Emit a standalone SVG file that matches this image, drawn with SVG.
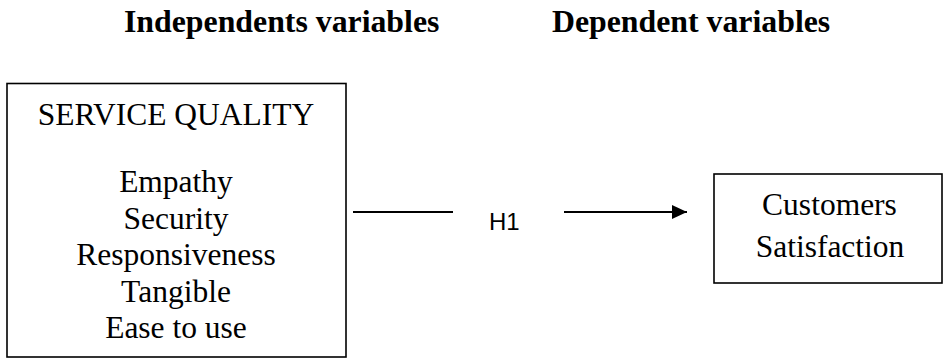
<svg xmlns="http://www.w3.org/2000/svg" width="943" height="358" viewBox="0 0 943 358">
<style>
.box{fill:#fff;stroke:#000;stroke-width:1.6}
.t{font-family:"Liberation Serif","Times New Roman",serif;font-size:31.5px;fill:#000;text-anchor:middle}
.h{font-family:"Liberation Serif","Times New Roman",serif;font-size:31.8px;font-weight:bold;fill:#000}
.lbl{font-family:"Liberation Sans",Arial,sans-serif;font-size:24px;fill:#000}
.ln{stroke:#000;stroke-width:2;fill:none}
</style>
<defs>
<marker id="arr" markerWidth="16" markerHeight="14" refX="15" refY="7" orient="auto" markerUnits="userSpaceOnUse">
<path d="M0,0 L15,7 L0,14 Z" fill="#000"/>
</marker>
</defs>
<g id="headings">
<text class="h" x="124" y="32">Independents variables</text>
<text class="h" x="552" y="32">Dependent variables</text>
</g>
<g id="service-quality">
<rect class="box" x="7" y="83.5" width="339" height="273.5"/>
<text class="t" x="176" y="125">SERVICE QUALITY</text>
<text class="t" x="176" y="192">Empathy</text>
<text class="t" x="176" y="228.5">Security</text>
<text class="t" x="176" y="265">Responsiveness</text>
<text class="t" x="176" y="301.5">Tangible</text>
<text class="t" x="176" y="338">Ease to use</text>
</g>
<g id="customer-satisfaction">
<rect class="box" x="714" y="174" width="228" height="109"/>
<text class="t" x="829.5" y="215">Customers</text>
<text class="t" x="830" y="257">Satisfaction</text>
</g>
<g id="connectors">
<line class="ln" x1="353" y1="212" x2="453" y2="212"/>
<line class="ln" x1="564" y1="212" x2="687" y2="212" marker-end="url(#arr)"/>
<text class="lbl" x="489" y="230">H1</text>
</g>
</svg>
